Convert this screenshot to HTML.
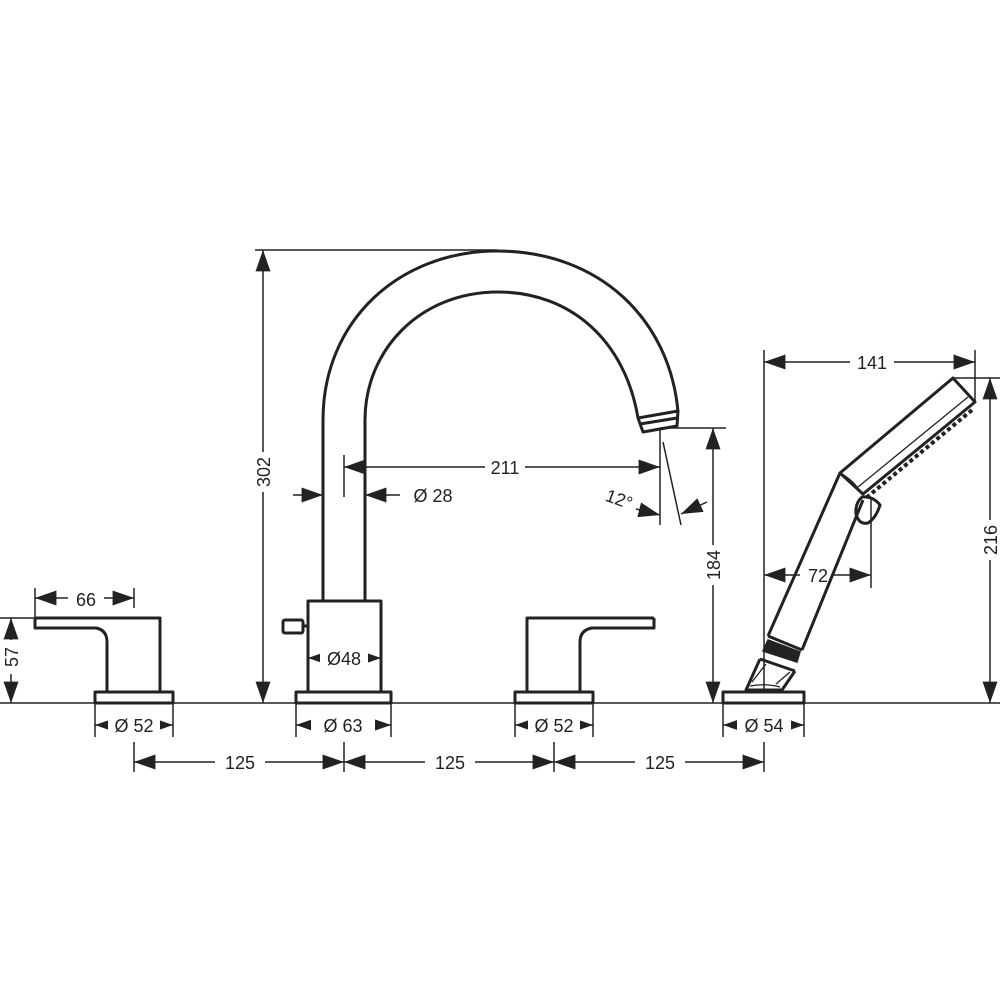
<!DOCTYPE html>
<html><head><meta charset="utf-8"><style>
html,body{margin:0;padding:0;background:#fff;}
svg{display:block;}
text{font-family:"Liberation Sans",sans-serif;font-size:18px;fill:#222;}
</style></head><body>
<svg width="1000" height="1000" viewBox="0 0 1000 1000" xmlns="http://www.w3.org/2000/svg">
<defs>
<marker id="a" viewBox="0 0 10 7" refX="10" refY="3.5" markerWidth="22" markerHeight="15" markerUnits="userSpaceOnUse" orient="auto-start-reverse"><path d="M0,0 L10,3.5 L0,7 z" fill="#222"/></marker>
</defs>
<g stroke="#222" stroke-width="1.5" fill="none">
<line x1="0" y1="703" x2="1000" y2="703"/>
<line x1="35" y1="588" x2="35" y2="618"/>
<line x1="134" y1="588" x2="134" y2="608"/>
<line x1="0" y1="618" x2="35" y2="618"/>
<line x1="95" y1="703" x2="95" y2="737"/><line x1="173" y1="703" x2="173" y2="737"/>
<line x1="296" y1="703" x2="296" y2="737"/><line x1="391" y1="703" x2="391" y2="737"/>
<line x1="515" y1="703" x2="515" y2="737"/><line x1="593" y1="703" x2="593" y2="737"/>
<line x1="723" y1="703" x2="723" y2="737"/><line x1="804" y1="703" x2="804" y2="737"/>
<line x1="134" y1="742" x2="134" y2="772"/><line x1="344" y1="742" x2="344" y2="772"/>
<line x1="554" y1="742" x2="554" y2="772"/><line x1="764" y1="742" x2="764" y2="772"/>
<line x1="255" y1="250" x2="497" y2="250"/>
<line x1="344" y1="455" x2="344" y2="497"/>
<line x1="660" y1="428" x2="660" y2="525"/>
<line x1="660" y1="428" x2="726" y2="428"/>
<line x1="663" y1="442" x2="681" y2="525"/>
<line x1="764" y1="350" x2="764" y2="703"/>
<line x1="975" y1="350" x2="975" y2="403"/>
<line x1="953" y1="378" x2="1000" y2="378"/>
<line x1="871" y1="498" x2="871" y2="588"/>
<line x1="35" y1="598" x2="134" y2="598" marker-start="url(#a)" marker-end="url(#a)"/>
<line x1="11" y1="618" x2="11" y2="703" marker-start="url(#a)" marker-end="url(#a)"/>
<line x1="95" y1="725" x2="173" y2="725" marker-start="url(#a)" marker-end="url(#a)"/>
<line x1="296" y1="725" x2="391" y2="725" marker-start="url(#a)" marker-end="url(#a)"/>
<line x1="515" y1="725" x2="593" y2="725" marker-start="url(#a)" marker-end="url(#a)"/>
<line x1="723" y1="725" x2="804" y2="725" marker-start="url(#a)" marker-end="url(#a)"/>
<line x1="134" y1="762" x2="344" y2="762" marker-start="url(#a)" marker-end="url(#a)"/>
<line x1="344" y1="762" x2="554" y2="762" marker-start="url(#a)" marker-end="url(#a)"/>
<line x1="554" y1="762" x2="764" y2="762" marker-start="url(#a)" marker-end="url(#a)"/>
<line x1="308" y1="658" x2="381" y2="658" marker-start="url(#a)" marker-end="url(#a)"/>
<line x1="263" y1="250" x2="263" y2="703" marker-start="url(#a)" marker-end="url(#a)"/>
<line x1="344" y1="467" x2="660" y2="467" marker-start="url(#a)" marker-end="url(#a)"/>
<line x1="293" y1="495" x2="323" y2="495" marker-end="url(#a)"/>
<line x1="400" y1="495" x2="365" y2="495" marker-end="url(#a)"/>
<line x1="636" y1="509" x2="660" y2="515" marker-end="url(#a)"/>
<line x1="707" y1="502" x2="681" y2="514" marker-end="url(#a)"/>
<line x1="713" y1="428" x2="713" y2="703" marker-start="url(#a)" marker-end="url(#a)"/>
<line x1="764" y1="362" x2="975" y2="362" marker-start="url(#a)" marker-end="url(#a)"/>
<line x1="990" y1="378" x2="990" y2="703" marker-start="url(#a)" marker-end="url(#a)"/>
<line x1="764" y1="575" x2="871" y2="575" marker-start="url(#a)" marker-end="url(#a)"/>
</g>
<g fill="#fff">
<rect x="68" y="588" width="36" height="20"/>
<rect x="2" y="640" width="18" height="34"/>
<rect x="108" y="715" width="52" height="20"/>
<rect x="311" y="715" width="64" height="20"/>
<rect x="528" y="715" width="52" height="20"/>
<rect x="737" y="715" width="54" height="20"/>
<rect x="215" y="752" width="50" height="20"/>
<rect x="425" y="752" width="50" height="20"/>
<rect x="635" y="752" width="50" height="20"/>
<rect x="320" y="648" width="48" height="20"/>
<rect x="254" y="452" width="18" height="40"/>
<rect x="485" y="457" width="40" height="20"/>
<rect x="704" y="545" width="18" height="40"/>
<rect x="850" y="352" width="44" height="20"/>
<rect x="981" y="520" width="18" height="40"/>
<rect x="800" y="565" width="32" height="20"/>
</g>
<g>
<text x="86" y="606" text-anchor="middle">66</text>
<text x="0" y="0" text-anchor="middle" transform="translate(18,657) rotate(-90)">57</text>
<text x="134" y="732" text-anchor="middle">Ø 52</text>
<text x="343" y="732" text-anchor="middle">Ø 63</text>
<text x="554" y="732" text-anchor="middle">Ø 52</text>
<text x="764" y="732" text-anchor="middle">Ø 54</text>
<text x="240" y="769" text-anchor="middle">125</text>
<text x="450" y="769" text-anchor="middle">125</text>
<text x="660" y="769" text-anchor="middle">125</text>
<text x="344" y="665" text-anchor="middle">Ø48</text>
<text x="0" y="0" text-anchor="middle" transform="translate(270,472) rotate(-90)">302</text>
<text x="505" y="474" text-anchor="middle">211</text>
<text x="433" y="502" text-anchor="middle">Ø 28</text>
<text x="0" y="0" text-anchor="middle" transform="translate(617,505) rotate(20)">12°</text>
<text x="0" y="0" text-anchor="middle" transform="translate(720,565) rotate(-90)">184</text>
<text x="872" y="369" text-anchor="middle">141</text>
<text x="0" y="0" text-anchor="middle" transform="translate(997,540) rotate(-90)">216</text>
<text x="818" y="582" text-anchor="middle">72</text>
</g>
<g stroke="#222" stroke-width="3" fill="none" stroke-linejoin="round">
<path d="M35,618 H160 V692 M35,618 V628 H96 Q107,630 107,642 V692"/>
<rect x="95" y="692" width="78" height="11" fill="#fff"/>
<path d="M654,618 H527 V692 M654,618 V628 H592 Q580,630 580,642 V692"/>
<rect x="515" y="692" width="78" height="11" fill="#fff"/>
<rect x="308" y="601" width="73" height="91"/>
<rect x="296" y="692" width="95" height="11" fill="#fff"/>
<rect x="283" y="620" width="20" height="13" rx="2"/>
<line x1="303" y1="626" x2="308" y2="626"/>
<path d="M323,601 V420 C323,320 400,251 497,251 C600,251 670,320 678,412"/>
<path d="M365,601 V420 C365,350 420,292 498,292 C570,292 625,340 638,418"/>
<path d="M638,418 L678,411 L677,426 L643,432 Z M640,424 L677,418"/>
<!-- hand shower -->
<rect x="723" y="692" width="81" height="11" fill="#fff"/>
<path d="M953,378 L975,402 L863,494 L840,473 Z"/>
<path d="M840,473 L768,636 M863,500 L802,650"/>
<path d="M768,636 L802,650 M760,659 L795,671"/>
<path d="M760,659 L746,690 L782,690 L795,671"/>
<path d="M862,497 Q855,503 856,514 Q859,525 868,523 Q876,518 880,505 Q873,496 862,497 Z"/>
</g>
<g stroke="#222" fill="none">
<path d="M768,640 L800,652 L797,662 L763,651 Z" fill="#222" stroke-width="1.5"/>
<path d="M752,682 L766,664 M776,684 L790,672 M750,686 Q766,683 780,687" stroke-width="1.3"/>
<path d="M968,397 L858,487" stroke-width="1.3"/>
<path d="M972,410 L866,498" stroke-width="4" stroke-dasharray="4 3"/>
<path d="M840,473 Q850,478 858,488" stroke-width="1.3"/>
</g>
</svg>
</body></html>
